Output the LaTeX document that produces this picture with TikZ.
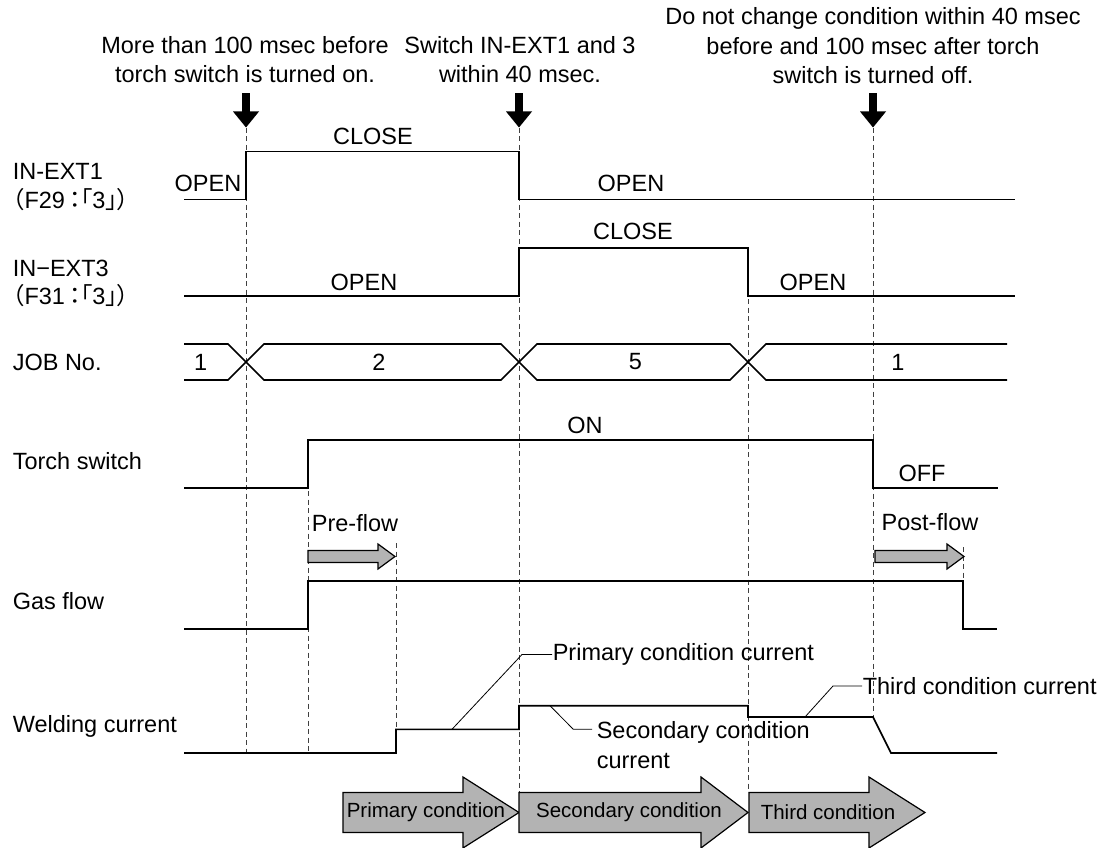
\documentclass[tikz,border=0pt]{standalone}
\usepackage{fontspec}
\setmainfont{Liberation Sans}
\newfontfamily\cjk[RawFeature=+palt]{Noto Sans CJK JP}
\usepackage{tikz}
\definecolor{flowgray}{HTML}{B3B3B3}
\definecolor{guidegray}{HTML}{404040}
\newcommand{\fw}[1]{{\cjk #1}}
\tikzset{tc/.style={x=1pt,y=-1pt,line width=1.6pt,font=\fontsize{23.5}{29.5}\selectfont},
  guide/.style={guidegray,line width=.8pt,dash pattern=on 5pt off 3.5pt},
  lead/.style={line width=.8pt},
  flow/.style={fill=flowgray,draw,line width=1.2pt},
  lbl/.style={anchor=west,inner sep=0pt},
  note/.style={align=center,inner sep=0pt},
  cond/.style={inner sep=0pt,font=\fontsize{20.5}{24}\selectfont}}

\begin{document}
\begin{tikzpicture}[tc]
  \useasboundingbox (0,0) rectangle (1106,848);
  \node[note] (noteon) at (245,59.5){More than 100 msec before\\torch switch is turned on.};
  \node[note] (noteswap) at (520,59.5){Switch IN-EXT1 and 3\\within 40 msec.};
  \node[note] (noteoff) at (873,46){Do not change condition within 40 msec\\before and 100 msec after torch\\switch is turned off.};
  \foreach \x in {246,519,873}{\fill (\x-4,93) rectangle (\x+4,112);\fill (\x-13,111.5)--(\x+13,111.5)--(\x,127.5)--cycle;}
  \foreach \x/\a/\b in {246/128/753,308/440/753,396/543/729,519/128/792,748/248/792,873/128/717,963/547/581}{\draw[guide] (\x,\a)--(\x,\b);}
  % signal names
  \node[lbl] (ext1) at (12,171.5){IN-EXT1};\node[lbl] (ext1f) at (12,200){\fw{（}F29\fw{\,：「}3\fw{」）}};
  \node[lbl] (ext3) at (12,268){IN−EXT3};\node[lbl] (ext3f) at (12,295.5){\fw{（}F31\fw{\,：「}3\fw{」）}};
  \node[lbl] (job) at (12,362){JOB No.};
  \node[lbl] (torch) at (12,461.5){Torch switch};
  \node[lbl] (gas) at (12,601.5){Gas flow};
  \node[lbl] (weld) at (12,726){Welding current};
  % waves
  \draw (184,199.5)--(246,199.5)--(246,151.5)--(519,151.5)--(519,199.5)--(1015,199.5);
  \draw (184,296)--(519,296)--(519,248)--(748,248)--(748,296)--(1015,296);
  \draw (184,344)--(228,344)--(264,380)--(501,380)--(537,344)--(730,344)--(766,380)--(1007,380);
  \draw (184,380)--(228,380)--(264,344)--(501,344)--(537,380)--(730,380)--(766,344)--(1007,344);
  \draw (184,487.7)--(308,487.7)--(308,440)--(873,440)--(873,487.7)--(998,487.7);
  \draw (184,628.7)--(308,628.7)--(308,581)--(963,581)--(963,628.7)--(997,628.7);
  \draw (184,753)--(396,753)--(396,729.3)--(519,729.3)--(519,705.7)--(748,705.7)--(748,717)--(873,717)--(891,753)--(997,753);
  \node (ext1open) at (208,183.3){OPEN};\node (ext1close) at (373,136){CLOSE};\node (ext1open2) at (631,183.3){OPEN};
  \node (ext3open) at (364,282){OPEN};\node (ext3close) at (633,231){CLOSE};\node (ext3open2) at (813,282){OPEN};
  \foreach \x/\n/\l in {200.7/ja/1,379/jb/2,635.5/jc/5,898/jd/1}{\node (\n) at (\x,362){\l};}
  \node (torchon) at (585,425){ON};\node (torchoff) at (922,473){OFF};
  \node (pre) at (355,523){Pre-flow};\node (post) at (930,521.7){Post-flow};
  \foreach \a/\b in {308/395,875/964}{\draw[flow] (\a,550.5)--(\b-17,550.5)--(\b-17,544)--(\b,556.5)--(\b-17,569)--(\b-17,562.5)--(\a,562.5)--cycle;}
  % current callouts
  \coordinate (pcur) at (452,729.3);\node[lbl] (pcurtxt) at (552,654.5){Primary condition current};
  \draw[lead] (pcur)--(522,654.5)--(pcurtxt.west);
  \coordinate (scur) at (550,705.7);\node[lbl,align=left] (scurtxt) at (596,745){Secondary condition\\current};
  \coordinate (send) at (592,729.3);\draw[lead] (scur)--(573.3,729.3)--(send);
  \coordinate (tcur) at (805,717);\node[lbl] (tcurtxt) at (862,686){Third condition current};
  \draw[lead] (tcur)--(833,686)--(tcurtxt.west);
  % condition arrows
  \foreach \a/\h/\t in {343/463/519,519/701/748,749/869/925}{\draw[flow] (\a,792.5)--(\h,792.5)--(\h,777)--(\t,812.5)--(\h,848)--(\h,832.5)--(\a,832.5)--cycle;}
  \node[cond,anchor=west] (primary) at (346,812){Primary condition};
  \node[cond] (secondary) at (629,812){Secondary condition};
  \node[cond] (third) at (828,812){Third condition};
\end{tikzpicture}
\end{document}
